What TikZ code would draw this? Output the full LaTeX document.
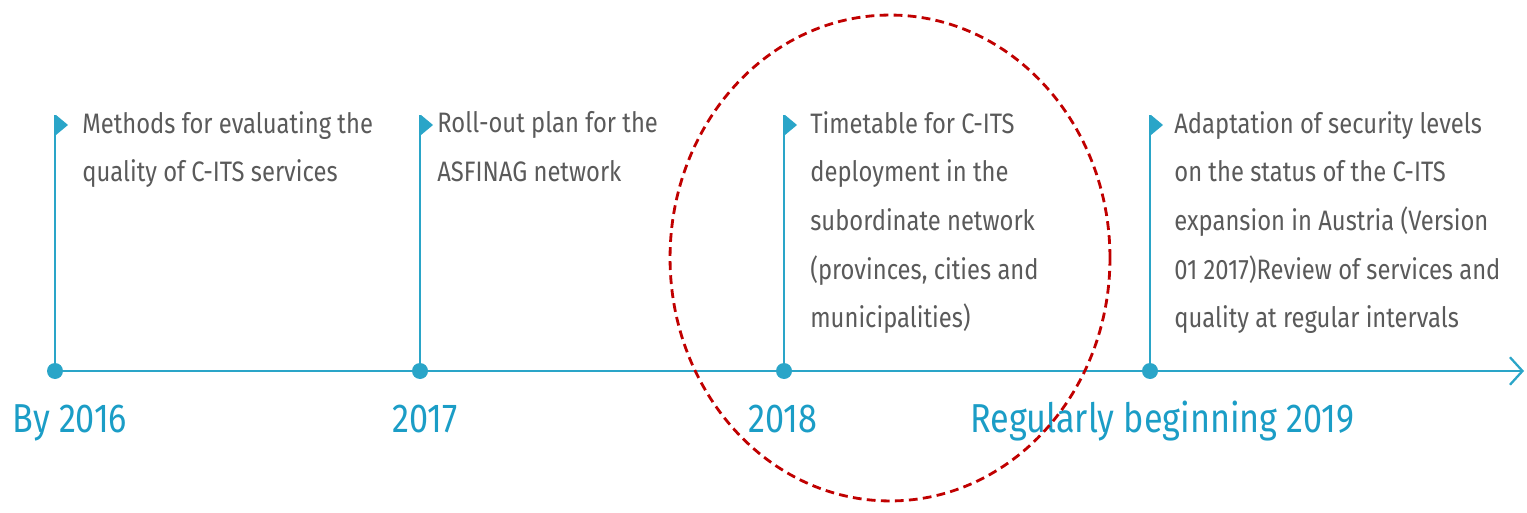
\documentclass[tikz,border=0pt]{standalone}
\usepackage{fontspec}
\setmainfont{Fira Sans}[FakeStretch=0.846]
\usetikzlibrary{arrows.meta}
\definecolor{tealline}{HTML}{2AA5C8}
\definecolor{tealtext}{HTML}{1B9DC6}
\definecolor{greytext}{HTML}{5A5A5A}
\definecolor{markred}{HTML}{C00000}
\tikzset{
  milestone/.style={circle, fill=tealline, inner sep=0pt, minimum size=16*0.02cm},
  flagtip/.style={fill=tealline, draw=none},
  stemline/.style={draw=tealline, line width=1.3pt},
  itemtext/.style={anchor=north west, align=left, inner sep=0pt, text=greytext,
    font=\fontsize{16}{27.7}\selectfont},
  yeartext/.style={anchor=base west, inner sep=0pt, text=tealtext,
    font=\fontsize{23}{26}\selectfont},
}
\begin{document}
\begin{tikzpicture}[x=0.02cm, y=-0.02cm]
    \useasboundingbox (0,0) rectangle (1527,513);
    \def\axisy{371}
    \def\stemtop{115}

    % dots on the axis
    \node[milestone] (m1) at (55,\axisy) {};
    \node[milestone] (m2) at (420,\axisy) {};
    \node[milestone] (m3) at (784,\axisy) {};
    \node[milestone] (m4) at (1150,\axisy) {};
    \coordinate (axisend) at (1524,\axisy);

    \draw[stemline, -{Straight Barb[length=0.25cm, width=0.55cm, line width=1.3pt]}] (m1.center) -- (axisend);

    % stems with their small flags
    \foreach \n/\x in {m1/55, m2/420, m3/784, m4/1150} {
        \coordinate (\n top) at (\x,\stemtop);
        \draw[stemline] (\n.center) -- (\n top);
        \fill[flagtip] (\x+1,\stemtop) -- (\x+13,\stemtop+10) -- (\x+1,\stemtop+20) -- cycle;
    }

    % texts
    \node[itemtext] (t1) at (82,111) {Methods for evaluating the\\quality of C-ITS services};
    \node[itemtext] (t2) at (437,111) {Roll-out plan for the\\ASFINAG network};
    \node[itemtext] (t3) at (810,111) {Timetable for C-ITS\\deployment in the\\subordinate network\\(provinces, cities and\\municipalities)};
    \node[itemtext] (t4) at (1174,111) {Adaptation of security levels\\on the status of the C-ITS\\expansion in Austria (Version\\01 2017)Review of services and\\quality at regular intervals};

    \node[yeartext] (y1) at (12,432) {By 2016};
    \node[yeartext] (y2) at (392,432) {2017};
    \node[yeartext] (y3) at (748,432) {2018};
    \node[yeartext] (y4) at (970,432) {Regularly beginning 2019};

    % red mark round 2018
    \draw[markred, line width=1.6pt, dash pattern=on 5pt off 3pt] (890,258) ellipse [x radius=4.4cm, y radius=4.86cm];
\end{tikzpicture}
\end{document}
